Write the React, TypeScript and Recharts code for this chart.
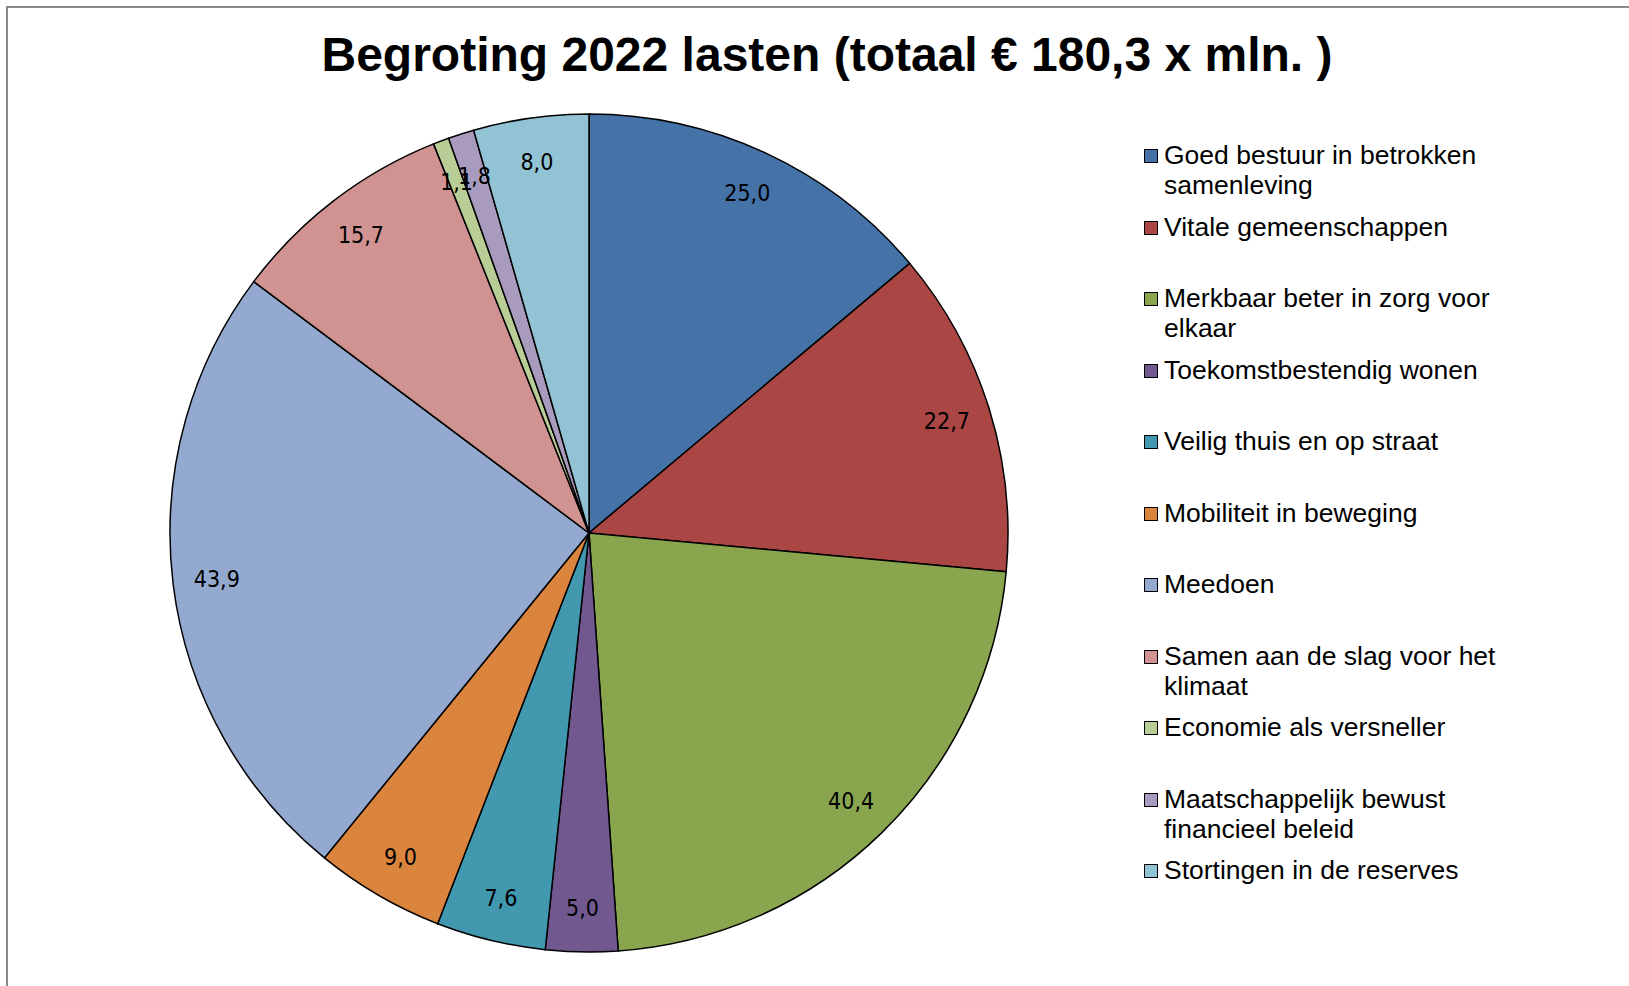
import React from 'react';
import { PieChart, Pie, Cell, Legend } from 'recharts';

// Begroting 2022 lasten, x mln euro
const categories = [
  'Goed bestuur in betrokken samenleving',
  'Vitale gemeenschappen',
  'Merkbaar beter in zorg voor elkaar',
  'Toekomstbestendig wonen',
  'Veilig thuis en op straat',
  'Mobiliteit in beweging',
  'Meedoen',
  'Samen aan de slag voor het klimaat',
  'Economie als versneller',
  'Maatschappelijk bewust financieel beleid',
  'Stortingen in de reserves',
];

const values = [25.0, 22.7, 40.4, 5.0, 7.6, 9.0, 43.9, 15.7, 1.1, 1.8, 8.0];

const colors = [
  '#4572A7', '#AA4643', '#89A54E', '#71588F', '#4198AF', '#DB843D',
  '#93A9CF', '#D19392', '#B9CD96', '#A99BBD', '#92C3D4',
];

const title = 'Begroting 2022 lasten (totaal € 180,3 x mln. )';

const data = categories.map((name, i) => ({ name, value: values[i] }));

const RAD = Math.PI / 180;

const renderLabel = (props: any) => {
  const { cx, cy, midAngle, outerRadius, value } = props;
  const r = outerRadius * 0.895;
  const x = cx + r * Math.cos(-midAngle * RAD);
  const y = cy + r * Math.sin(-midAngle * RAD);
  return (
    <text
      x={x}
      y={y}
      textAnchor="middle"
      dominantBaseline="central"
      fill="#000"
      style={{ fontFamily: '"Liberation Sans Narrow", "DejaVu Sans Condensed", sans-serif', fontSize: 23 }}
    >
      {value.toFixed(1).replace('.', ',')}
    </text>
  );
};

const renderLegend = () => (
  <div style={{ fontFamily: '"Liberation Sans", Arial, sans-serif', fontSize: 26.5, lineHeight: '30px', color: '#000' }}>
    {categories.map((name, i) => (
      <div key={name} style={{ display: 'flex', alignItems: 'flex-start', height: 71.5 }}>
        <div
          style={{
            width: 12,
            height: 12,
            marginTop: 9,
            marginRight: 6,
            background: colors[i],
            border: '1.5px solid #000',
            flexShrink: 0,
          }}
        />
        <div style={{ width: 345 }}>{name}</div>
      </div>
    ))}
  </div>
);

export default function App() {
  return (
    <div style={{ position: 'fixed', left: 0, top: 0, width: 1629, height: 986, background: '#fff', overflow: 'hidden' }}>
      <div
        style={{
          position: 'absolute',
          left: 6,
          top: 6,
          width: 1700,
          height: 1100,
          border: '2px solid #8a8a8a',
          boxSizing: 'border-box',
        }}
      />
      <div
        style={{
          position: 'absolute',
          left: 0,
          top: 26,
          width: 1654,
          textAlign: 'center',
          fontFamily: '"Liberation Sans", Arial, sans-serif',
          fontWeight: 'bold',
          fontSize: 48,
          lineHeight: '58px',
          color: '#000',
        }}
      >
        {title}
      </div>
      <div style={{ position: 'absolute', left: 0, top: 0 }}>
        <PieChart width={1629} height={986} margin={{ top: 0, right: 0, bottom: 0, left: 0 }}>
          <Pie
            data={data}
            dataKey="value"
            nameKey="name"
            cx={589}
            cy={533}
            outerRadius={419}
            startAngle={90}
            endAngle={-270}
            stroke="#000"
            strokeWidth={1.5}
            label={renderLabel}
            labelLine={false}
            isAnimationActive={false}
          >
            {data.map((d, i) => (
              <Cell key={d.name} fill={colors[i]} />
            ))}
          </Pie>
          <Legend
            layout="vertical"
            content={renderLegend}
            wrapperStyle={{ position: 'absolute', left: 1144, top: 140, width: 420 }}
          />
        </PieChart>
      </div>
    </div>
  );
}
